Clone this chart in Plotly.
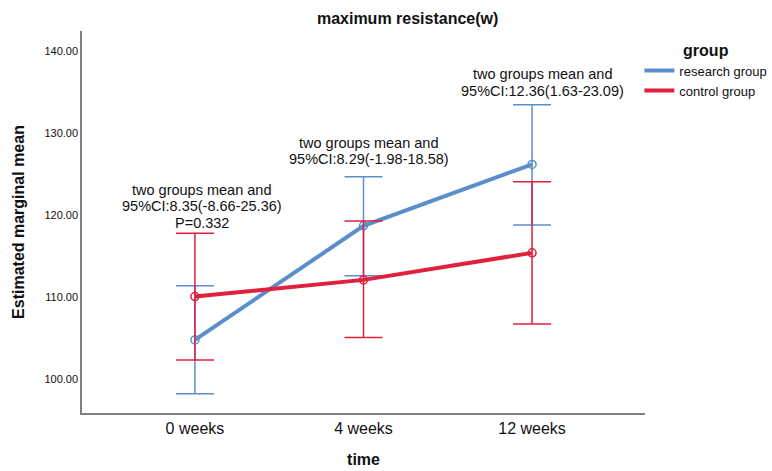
import plotly.graph_objects as go

# Time points and estimated marginal means with 95% CI bounds
time_points = ["0 weeks", "4 weeks", "12 weeks"]

research_mean = [104.77, 118.70, 126.20]
research_upper = [111.37, 124.70, 133.50]
research_lower = [98.20, 112.60, 118.80]

control_mean = [110.06, 112.10, 115.40]
control_upper = [117.80, 119.30, 124.10]
control_lower = [102.30, 105.05, 106.70]

# Between-group difference notes (lines of text, x category index, y baseline value)
note_lines = [
    ["two groups mean and", "95%CI:8.35(-8.66-25.36)", "P=0.332"],
    ["two groups mean and", "95%CI:8.29(-1.98-18.58)"],
    ["two groups mean and", "95%CI:12.36(1.63-23.09)"],
]
note_x = [0.04, 1.03, 2.06]
note_bottom = [117.85, 125.65, 134.0]

y_ticks = [100, 110, 120, 130, 140]

BLUE = "#5b8fcc"
RED = "#e0203d"
FONT = "Liberation Sans, Arial, sans-serif"

fig = go.Figure()


def add_group(name, means, upper, lower, color):
    # means with CI whiskers
    fig.add_trace(go.Scatter(
        x=time_points, y=means, name=name, mode="lines+markers", showlegend=False,
        line=dict(color=color, width=4),
        marker=dict(symbol="circle-open", size=8, color=color, line=dict(width=1.5)),
        error_y=dict(
            type="data", symmetric=False,
            array=[u - m for u, m in zip(upper, means)],
            arrayminus=[m - l for m, l in zip(means, lower)],
            color=color, thickness=1.5, width=19,
        ),
    ))
    # line-only legend entry
    fig.add_trace(go.Scatter(
        x=[None], y=[None], name=name, mode="lines",
        line=dict(color=color, width=4), showlegend=True,
    ))


add_group("research group", research_mean, research_upper, research_lower, BLUE)
add_group("control group", control_mean, control_upper, control_lower, RED)

px_per_unit = 8.18
line_step = 16.3 / px_per_unit
for lines, xc, yb in zip(note_lines, note_x, note_bottom):
    n = len(lines)
    for i, txt in enumerate(lines):
        fig.add_annotation(
            x=xc, y=yb + (n - 1 - i) * line_step, xref="x", yref="y",
            text=txt, showarrow=False, yanchor="bottom", xanchor="center",
            font=dict(family=FONT, size=14.5, color="#111111"),
        )

fig.update_layout(
    width=772, height=471,
    margin=dict(l=82, r=127, t=31, b=58, autoexpand=False),
    paper_bgcolor="white", plot_bgcolor="white",
    font=dict(family=FONT, color="#111111"),
    title=dict(text="<b>maximum resistance(w)</b>", x=0.528, xanchor="center",
               y=0.96, yanchor="middle", font=dict(family=FONT, size=16, color="#111111")),
    showlegend=True,
    legend=dict(
        x=0.99, xanchor="left", y=0.99, yanchor="top",
        title=dict(text="<b>group</b>", side="top center", font=dict(family=FONT, size=16)),
        font=dict(family=FONT, size=13), tracegroupgap=0, itemwidth=30,
        bgcolor="rgba(0,0,0,0)",
    ),
    xaxis=dict(
        range=[-0.67, 2.67], showgrid=False, zeroline=False, automargin=False,
        showline=True, linecolor="#808080", linewidth=1.5, ticks="",
        tickfont=dict(family=FONT, size=16),
        title=dict(text="<b>time</b>", font=dict(family=FONT, size=16), standoff=18),
    ),
    yaxis=dict(
        range=[95.84, 142.5], showgrid=False, zeroline=False, automargin=False,
        showline=True, linecolor="#808080", linewidth=1.5, ticks="",
        tickvals=y_ticks, ticktext=[f"{v:.2f}" for v in y_ticks],
        tickfont=dict(family=FONT, size=11),
        title=dict(text="<b>Estimated marginal mean</b>", font=dict(family=FONT, size=16), standoff=16),
    ),
)

fig.write_html("out.html")
